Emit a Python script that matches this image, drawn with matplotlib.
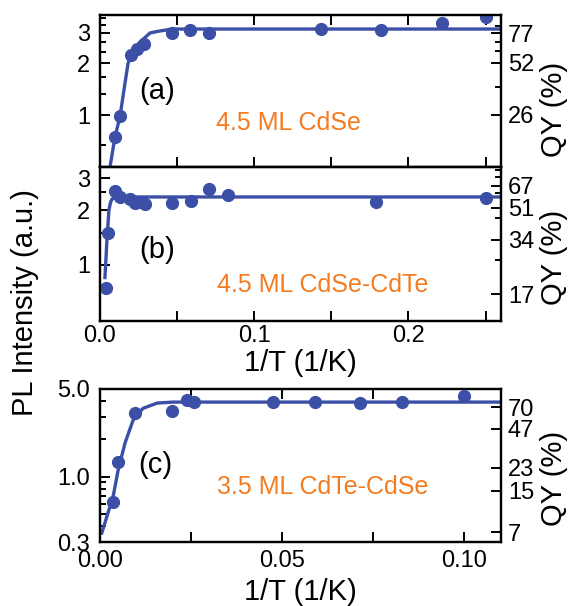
import matplotlib.pyplot as plt
from matplotlib.ticker import FixedLocator, NullFormatter

plt.rcParams['font.family'] = ['Liberation Sans', 'DejaVu Sans']

# panel (a) 4.5 ML CdSe
xa = [0.0097, 0.013, 0.020, 0.024, 0.0286, 0.0465, 0.0584, 0.071, 0.143, 0.182, 0.222, 0.25]
ya = [0.745, 0.99, 2.23, 2.42, 2.58, 3.0, 3.12, 3.0, 3.16, 3.12, 3.43, 3.7]
fit_xa = [0.0055, 0.0065, 0.0097, 0.013, 0.0162, 0.0182, 0.0214, 0.026, 0.0325, 0.039, 0.047, 0.26]
fit_ya = [0.42, 0.50, 0.745, 0.987, 1.53, 2.0, 2.39, 2.66, 3.0, 3.08, 3.16, 3.16]

# panel (b) 4.5 ML CdSe-CdTe
xb = [0.0039, 0.0052, 0.0097, 0.013, 0.0195, 0.0227, 0.0247, 0.029, 0.047, 0.059, 0.071, 0.083, 0.179, 0.25]
yb = [0.747, 1.50, 2.55, 2.36, 2.30, 2.19, 2.22, 2.16, 2.19, 2.25, 2.61, 2.42, 2.22, 2.33]
fit_xb = [0.0032, 0.0038, 0.0045, 0.0058, 0.0068, 0.0078, 0.0117, 0.26]
fit_yb = [0.85, 1.05, 1.37, 2.0, 2.2, 2.3, 2.36, 2.36]

# panel (c) 3.5 ML CdTe-CdSe
xc = [0.0036, 0.005, 0.0096, 0.0198, 0.0239, 0.0258, 0.0476, 0.059, 0.0714, 0.083, 0.100]
yc = [0.627, 1.31, 3.22, 3.34, 4.10, 3.93, 3.93, 3.93, 3.86, 3.93, 4.41]
fit_xc = [0.0005, 0.0019, 0.0036, 0.005, 0.0069, 0.0091, 0.0118, 0.0157, 0.020, 0.11]
fit_yc = [0.354, 0.48, 0.69, 1.13, 1.86, 2.82, 3.5, 3.86, 3.93, 3.93]

# QY axis labels and PL->QY factors
qy_a = [26, 52, 77]
qy_b = [17, 34, 51, 67]
qy_c = [7, 15, 23, 47, 70]
k_a, k_b, k_c = 25.8, 24.7, 19.5

blue = '#3B4FA6'
orange = '#F47B20'
fs_tick = 17
fs_lab = 21
fs_tag = 21
fs_name = 18

fig = plt.figure(figsize=(5.73, 6.06), dpi=100)
axa = fig.add_axes([0.1745, 0.7244, 0.6998, 0.2508])
axb = fig.add_axes([0.1745, 0.4703, 0.6998, 0.2541])
axc = fig.add_axes([0.1745, 0.1056, 0.6998, 0.2525])

def style(ax, top, bottom):
    for s in ax.spines.values():
        s.set_linewidth(1.6)
    ax.tick_params(which='both', direction='in', width=1.4, labelsize=fs_tick,
                   top=top, bottom=bottom, right=False, pad=7)
    ax.tick_params(which='major', length=7)
    ax.tick_params(which='minor', length=4)

for ax, x, y, fx, fy in [(axa, xa, ya, fit_xa, fit_ya), (axb, xb, yb, fit_xb, fit_yb),
                         (axc, xc, yc, fit_xc, fit_yc)]:
    ax.set_yscale('log')
    ax.plot(fx, fy, '-', color=blue, lw=2.4, zorder=2)
    ax.plot(x, y, 'o', color=blue, ms=8.5, mec=blue, zorder=3)

# (a)
axa.set_xlim(0, 0.26)
axa.set_ylim(0.5, 3.81)
axa.set_xticks([0, 0.05, 0.1, 0.15, 0.2, 0.25])
axa.set_xticklabels([])
axa.set_yticks([1, 2, 3])
axa.set_yticklabels(['1', '2', '3'])
axa.yaxis.set_minor_locator(FixedLocator([0.667, 1.333, 1.667, 2.333, 2.667, 3.333, 3.667]))
axa.yaxis.set_minor_formatter(NullFormatter())
style(axa, True, True)
axa.tick_params(axis='x', which='both', length=7)
axa.text(0.142, 0.5, '(a)', fontsize=fs_tag, ha='center', va='center', transform=axa.transAxes)
axa.text(0.469, 0.289, '4.5 ML CdSe', fontsize=fs_name, color=orange, ha='center', va='center',
         transform=axa.transAxes)

# (b)
axb.set_xlim(0, 0.26)
axb.set_ylim(0.49, 3.45)
axb.set_xticks([0, 0.1, 0.2])
axb.set_xticklabels(['0.0', '0.1', '0.2'])
axb.xaxis.set_minor_locator(FixedLocator([0.05, 0.15, 0.25]))
axb.set_yticks([1, 2, 3])
axb.set_yticklabels(['1', '2', '3'])
axb.yaxis.set_minor_locator(FixedLocator([1.5, 2.5]))
axb.yaxis.set_minor_formatter(NullFormatter())
style(axb, False, True)
axb.tick_params(axis='x', which='minor', length=7)
axb.tick_params(axis='x', pad=3)
axb.text(0.142, 0.461, '(b)', fontsize=fs_tag, ha='center', va='center', transform=axb.transAxes)
axb.text(0.556, 0.234, '4.5 ML CdSe-CdTe', fontsize=fs_name, color=orange, ha='center', va='center',
         transform=axb.transAxes)
axb.set_xlabel('1/T (1/K)', fontsize=fs_lab, labelpad=1)

# (c)
axc.set_xlim(0, 0.1102)
axc.set_ylim(0.3, 5.0)
axc.set_xticks([0, 0.05, 0.1])
axc.set_xticklabels(['0.00', '0.05', '0.10'])
axc.xaxis.set_minor_locator(FixedLocator([0.025, 0.075]))
axc.set_yticks([0.3, 1.0, 5.0])
axc.set_yticklabels(['0.3', '1.0', '5.0'])
axc.yaxis.set_minor_locator(FixedLocator([0.4, 0.5, 0.6, 0.7, 0.8, 0.9, 2, 3, 4]))
axc.yaxis.set_minor_formatter(NullFormatter())
style(axc, True, True)
axc.tick_params(axis='x', which='minor', length=7)
axc.tick_params(axis='x', pad=6)
axc.text(0.137, 0.503, '(c)', fontsize=fs_tag, ha='center', va='center', transform=axc.transAxes)
axc.text(0.556, 0.36, '3.5 ML CdTe-CdSe', fontsize=fs_name, color=orange, ha='center', va='center',
         transform=axc.transAxes)
axc.set_xlabel('1/T (1/K)', fontsize=fs_lab, labelpad=4)

# right-hand QY axes
for ax, qy, k in [(axa, qy_a, k_a), (axb, qy_b, k_b), (axc, qy_c, k_c)]:
    tw = ax.twinx()
    tw.set_yscale('log')
    tw.set_ylim(ax.get_ylim())
    tw.set_yticks([q / k for q in qy])
    tw.set_yticklabels([str(q) for q in qy])
    tw.yaxis.set_minor_formatter(NullFormatter())
    tw.yaxis.set_minor_locator(FixedLocator([]))
    for s in tw.spines.values():
        s.set_linewidth(1.6)
    tw.tick_params(which='both', direction='in', width=1.4, length=7, labelsize=fs_tick, pad=5)
    if ax is axa:
        tw.yaxis.set_minor_locator(FixedLocator([1.45, 2.35, 2.65, 3.3]))
    if ax is axb:
        tw.yaxis.set_minor_locator(FixedLocator([1.065, 1.81, 2.49, 3.04, 3.33]))
    tw.tick_params(which='minor', length=4)

fig.text(0.043, 0.5, 'PL Intensity (a.u.)', rotation=90, fontsize=fs_lab, ha='center', va='center')
fig.text(0.966, 0.82, 'QY (%)', rotation=90, fontsize=fs_lab, ha='center', va='center')
fig.text(0.966, 0.575, 'QY (%)', rotation=90, fontsize=fs_lab, ha='center', va='center')
fig.text(0.966, 0.21, 'QY (%)', rotation=90, fontsize=fs_lab, ha='center', va='center')

plt.savefig('out.png', dpi=100)
